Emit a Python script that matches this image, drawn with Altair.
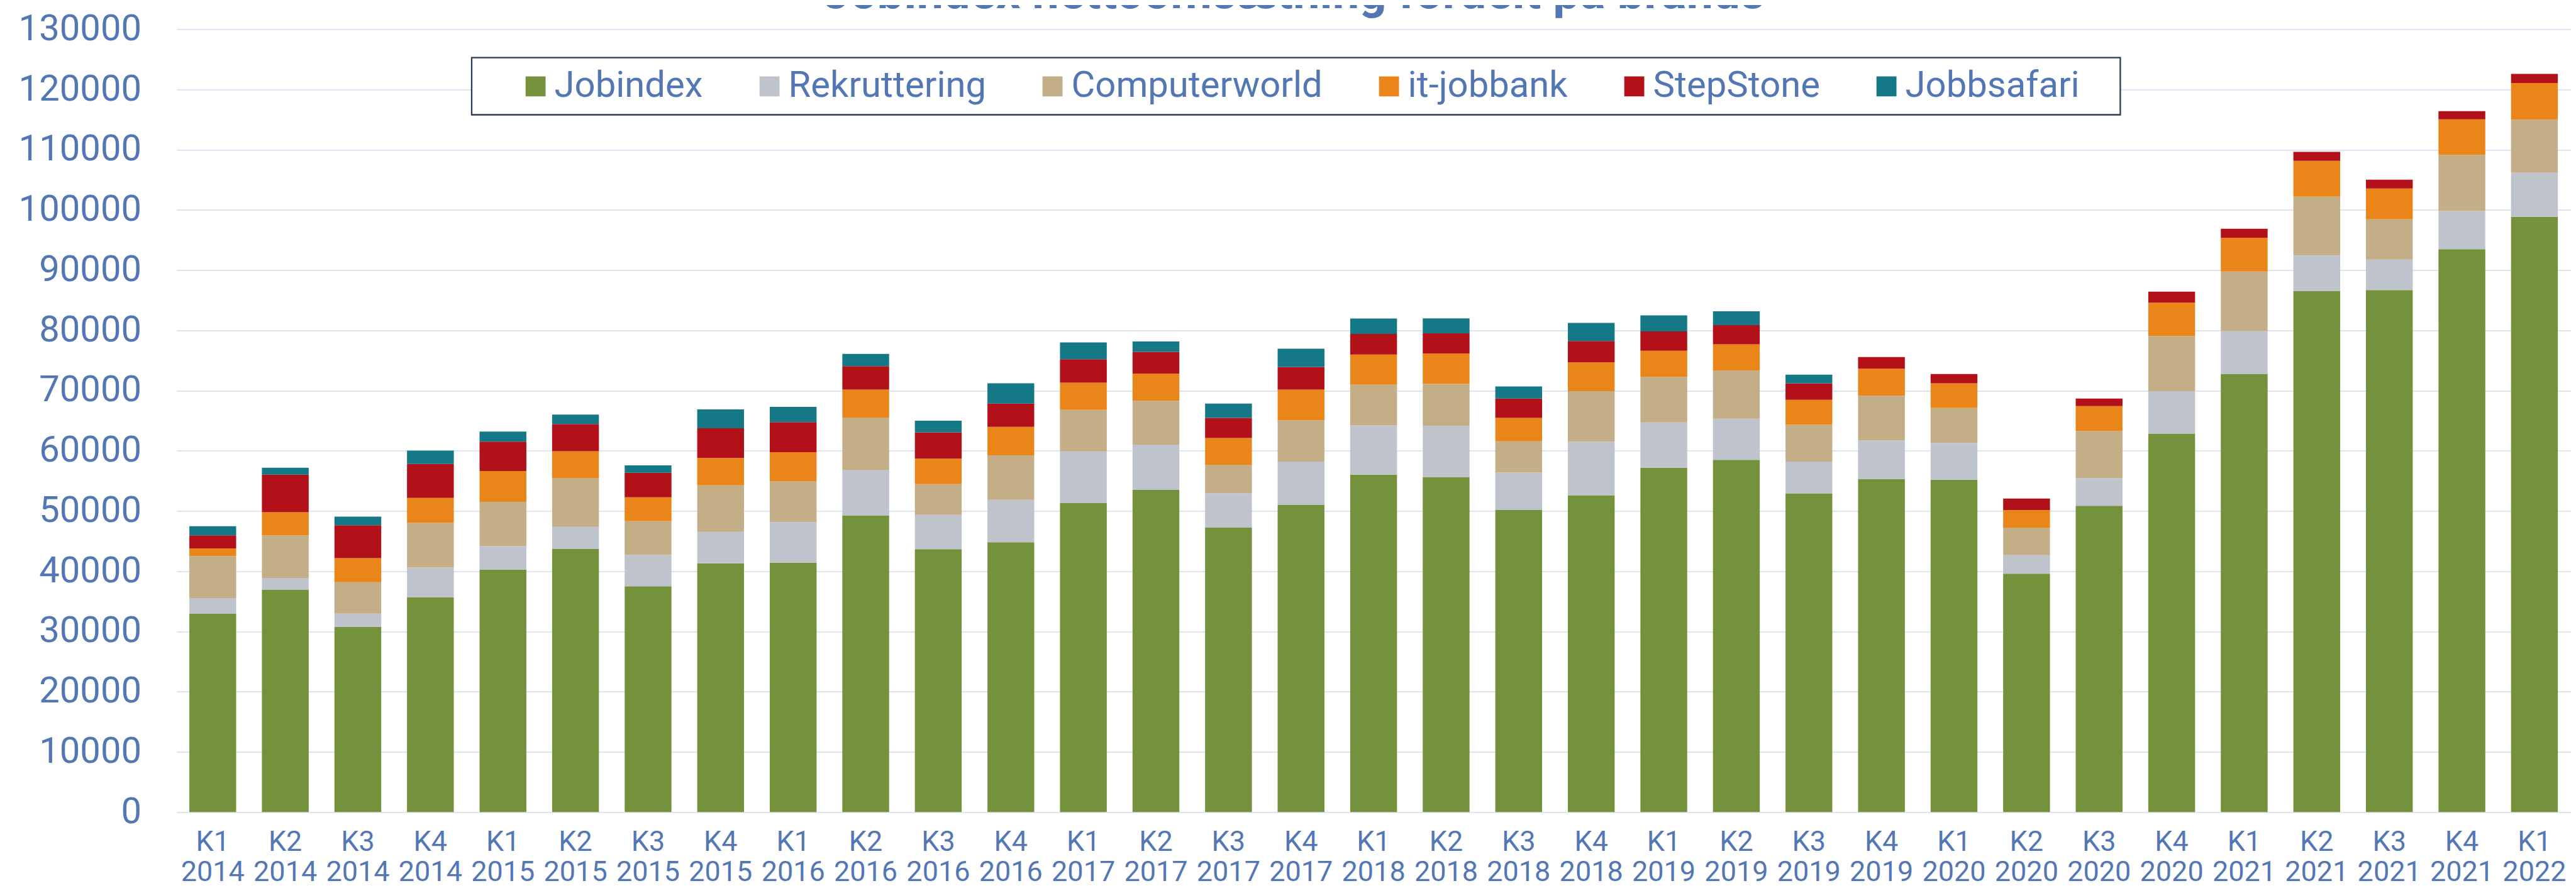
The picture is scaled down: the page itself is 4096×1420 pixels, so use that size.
import altair as alt
import pandas as pd

quarters = ["K1 2014", "K2 2014", "K3 2014", "K4 2014",
            "K1 2015", "K2 2015", "K3 2015", "K4 2015",
            "K1 2016", "K2 2016", "K3 2016", "K4 2016",
            "K1 2017", "K2 2017", "K3 2017", "K4 2017",
            "K1 2018", "K2 2018", "K3 2018", "K4 2018",
            "K1 2019", "K2 2019", "K3 2019", "K4 2019",
            "K1 2020", "K2 2020", "K3 2020", "K4 2020",
            "K1 2021", "K2 2021", "K3 2021", "K4 2021",
            "K1 2022"]

jobindex = [32920, 36930, 30720, 35670, 40270, 43690, 37480, 41290, 41410, 49270, 43650,
            44790, 51300, 53500, 47240, 51000, 56030, 55570, 50160, 52610, 57170, 58490,
            52930, 55300, 55200, 39590, 50850, 62840, 72760, 86500, 86670, 93470, 98830]
rekruttering = [2620, 1940, 2240, 4940, 3890, 3680, 5240, 5240, 6720, 7480, 5700,
                7060, 8580, 7520, 5700, 7180, 8200, 8580, 6210, 8870, 7520, 6840,
                5270, 6380, 6100, 3060, 4610, 7010, 7100, 5920, 5070, 6340, 7310]
computerworld = [6970, 7060, 5200, 7440, 7350, 8110, 5580, 7730, 6760, 8750, 5110,
                 7390, 6890, 7270, 4730, 6890, 6720, 6930, 5200, 8410, 7560, 7990,
                 6110, 7450, 5800, 4580, 7800, 9210, 9890, 9760, 6680, 9300, 8830]
itjobbank = [1270, 3850, 4010, 4100, 5110, 4440, 3970, 4520, 4860, 4650, 4230,
             4730, 4520, 4520, 4440, 5070, 5030, 5070, 3890, 4770, 4350, 4350,
             4140, 4480, 4100, 2930, 4140, 5530, 5580, 5960, 5110, 5920, 6080]
stepstone = [2160, 6250, 5450, 5660, 4900, 4520, 4060, 4940, 4990, 3890, 4350,
             3850, 3890, 3590, 3340, 3760, 3420, 3340, 3210, 3550, 3210, 3170,
             2750, 1940, 1520, 1890, 1270, 1820, 1520, 1480, 1480, 1350, 1520]
jobbsafari = [1520, 1140, 1440, 2200, 1650, 1560, 1230, 3130, 2540, 2030, 1940,
              3380, 2790, 1730, 2370, 3040, 2540, 2490, 1990, 3000, 2660, 2320,
              1440, 0, 0, 0, 0, 0, 0, 0, 0, 0, 0]

brands = ["Jobindex", "Rekruttering", "Computerworld", "it-jobbank", "StepStone", "Jobbsafari"]
series = [jobindex, rekruttering, computerworld, itjobbank, stepstone, jobbsafari]
colors = ["#74913B", "#BFC3CC", "#C4AE88", "#EA8519", "#B31119", "#147886"]

title_text = "Jobindex nettoomsætning fordelt på brands"
y_ticks = list(range(0, 130001, 10000))

TEXT = "#5377B5"
GRID = "#D9E1F1"
FONT = "Roboto"

rows = []
for order, (brand, vals) in enumerate(zip(brands, series)):
    for q, v in zip(quarters, vals):
        if v > 0:
            rows.append({"quarter": q, "brand": brand, "value": v, "ord": order})
df = pd.DataFrame(rows)

bars = alt.Chart(df).mark_bar().encode(
    x=alt.X("quarter:N", sort=quarters,
            scale=alt.Scale(paddingInner=0.355, paddingOuter=0.1775),
            axis=alt.Axis(title=None, labelAngle=0, labelExpr="split(datum.label, ' ')",
                          labelFont=FONT, labelFontSize=45, labelLineHeight=48,
                          labelColor=TEXT, labelPadding=25, ticks=False, tickSize=0,
                          domain=False, grid=False, labelLimit=1000)),
    y=alt.Y("value:Q", stack="zero",
            scale=alt.Scale(domain=[0, 130000], nice=False),
            axis=alt.Axis(title=None, values=y_ticks, format="d",
                          labelFont=FONT, labelFontSize=58, labelColor=TEXT,
                          labelPadding=56, ticks=False, tickSize=0, domain=False,
                          labelLimit=1000,
                          grid=True, gridColor=GRID, gridWidth=1.8)),
    color=alt.Color("brand:N",
                    scale=alt.Scale(domain=brands, range=colors),
                    legend=alt.Legend(title=None, orient="none", direction="horizontal",
                                      columns=6, legendX=542, legendY=62,
                                      symbolType="square", symbolSize=1011,
                                      symbolStrokeWidth=0, labelFont=FONT,
                                      labelFontSize=58, labelColor=TEXT, labelOffset=1,
                                      labelLimit=2000, columnPadding=76, padding=0)),
    order=alt.Order("ord:Q", sort="ascending"),
)

single = alt.Data(values=[{"t": title_text}])

frame = alt.Chart(single).mark_rect(fill="white", stroke="#2B3A55", strokeWidth=2.3).encode(
    x=alt.value(469.4), x2=alt.value(3090.8), y=alt.value(45.4), y2=alt.value(136.2)
)

title = alt.Chart(single).mark_text(
    font=FONT, fontSize=76, fontWeight="bold", color=TEXT, align="center",
    baseline="alphabetic"
).encode(text="t:N", x=alt.value(1777), y=alt.value(-33.8))

chart = alt.layer(bars, frame, title).properties(
    width=3807,
    height=1245,
    padding={"left": 272.6, "top": 38.3, "right": 0, "bottom": 120.7},
    autosize=alt.AutoSizeParams(type="none"),
    background="white",
).configure_view(stroke=None)

chart.save("out.html", embed_options={"renderer": "svg", "actions": False})
